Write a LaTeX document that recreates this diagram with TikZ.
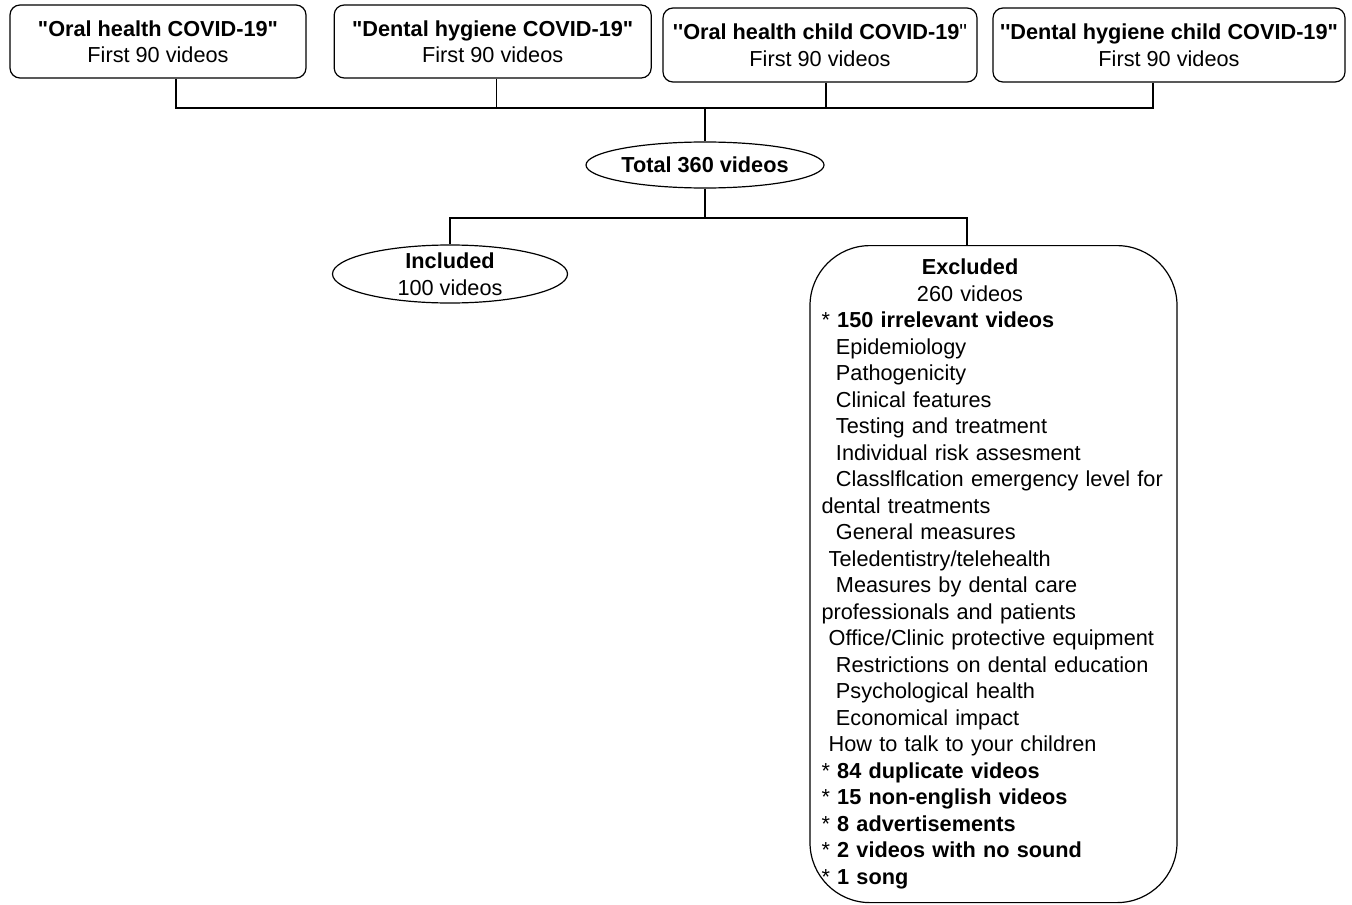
\documentclass[tikz,border=0pt]{standalone}
\usepackage{fontspec}
\setmainfont[Ligatures=TeXOff]{Liberation Sans}
\usepackage{tikz}
\usetikzlibrary{positioning}
\usetikzlibrary{shapes.geometric}
\tikzset{
  topbox/.style={draw, rounded corners=5pt, align=center,
    minimum height=36.5pt, inner sep=1pt},
  oval/.style={draw, ellipse, align=center, inner xsep=0pt},
  exbox/.style={draw, rounded corners=30pt, align=left, anchor=north,
    text width=172pt, inner xsep=5.75pt, inner ysep=6pt,
    minimum height=328.5pt}
}

\begin{document}
\begin{tikzpicture}[x=0.5pt, y=-0.5pt,
      line width=0.6pt,
      font=\fontsize{10.85}{13.25}\selectfont]

    \useasboundingbox (0,0) rectangle (1352,904);

    \node[topbox, minimum width=148pt]
      (OralHealth) at (158,41.5) {\textbf{"Oral health COVID-19"}\\First 90 videos};
    \node[topbox, minimum width=158.5pt]
      (DentalHygiene) [right=13.5pt of OralHealth] {\textbf{"Dental hygiene COVID-19"}\\First 90 videos};
    \node[topbox, minimum width=157pt, minimum height=37pt]
      (OralChild) at (820,45) {\textbf{''Oral health child COVID-19}"\\First 90 videos};
    \node[topbox, minimum width=176pt, minimum height=37pt]
      (DentalChild) at (1169,45) {\textbf{''Dental hygiene child COVID-19"}\\First 90 videos};

    \node[oval, minimum width=119pt, minimum height=23pt]
      (Total) at (705,165) {\textbf{Total 360 videos}};
    \node[oval, minimum width=117.5pt, minimum height=29pt, inner ysep=-1.5pt]
      (Included) at (450,274) {\textbf{Included}\\100 videos};
    \node[exbox]
      (Excluded) at (993.5,245) {%
        \makebox[148.5pt]{\textbf{Excluded}}\\
        \makebox[148.5pt]{260 videos}\\
        {*} \textbf{150 irrelevant videos}\\
        \ \ Epidemiology\\
        \ \ Pathogenicity\\
        \ \ Clinical features\\
        \ \ Testing and treatment\\
        \ \ Individual risk assesment\\
        \ \ Classlflcation emergency level for\\
        dental treatments\\
        \ \ General measures\\
        \ Teledentistry/telehealth\\
        \ \ Measures by dental care\\
        professionals and patients\\
        \ Office/Clinic protective equipment\\
        \ \ Restrictions on dental education\\
        \ \ Psychological health\\
        \ \ Economical impact\\
        \ How to talk to your children\\
        {*} \textbf{84 duplicate videos}\\
        {*} \textbf{15 non-english videos}\\
        {*} \textbf{8 advertisements}\\
        {*} \textbf{2 videos with no sound}\\
        {*} \textbf{1 song}};

    \coordinate (TopBus) at (705,108);
    \coordinate (MidBus) at (705,218);

    \draw ([xshift=9pt]OralHealth.south) |- (TopBus);
    \draw ([xshift=2pt]DentalHygiene.south) |- (TopBus);
    \draw ([xshift=3pt]OralChild.south) |- (TopBus);
    \draw ([xshift=-8pt]DentalChild.south) |- (TopBus);
    \draw (TopBus) -- (Total.north);
    \draw (Total.south) -- (MidBus);
    \draw (MidBus) -| (Included.north);
    \draw (MidBus) -| ([xshift=-13.25pt]Excluded.north);

  \end{tikzpicture}
\end{document}
